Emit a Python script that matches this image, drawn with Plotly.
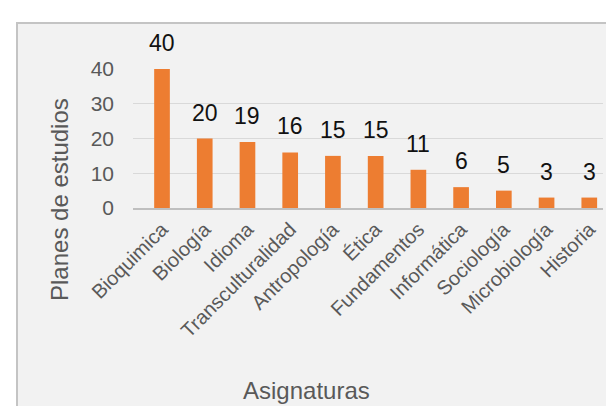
import plotly.graph_objects as go

categories = ["Bioquimica", "Biología", "Idioma", "Transculturalidad", "Antropología",
              "Ética", "Fundamentos", "Informática", "Sociología", "Microbiología", "Historia"]
values = [40, 20, 19, 16, 15, 15, 11, 6, 5, 3, 3]
y_ticks = [0, 10, 20, 30, 40]
x_title = "Asignaturas"
y_title = "Planes de estudios"

FONT = "Liberation Sans, Arial, sans-serif"
W, H = 614, 406
L, R, T, B = 125, 19, 61, 206
pw, ph = W - L - R, H - T - B

def px_x(p):
    return (p - L) / pw

def px_y(p):
    return (H - B - p) / ph

fig = go.Figure()
fig.add_trace(go.Bar(
    x=list(range(len(categories))), y=values,
    marker=dict(color="#ED7D31", line=dict(width=0)),
    width=0.367, hoverinfo="skip",
))

for i, v in enumerate(values):
    fig.add_annotation(x=i, y=v, text=str(v), showarrow=False, yanchor="bottom",
                       xanchor="center", yshift=11,
                       font=dict(family=FONT, size=23, color="#111111"))

fig.add_annotation(xref="paper", yref="paper", x=px_x(298), y=px_y(382), text=x_title,
                   xanchor="center", yanchor="middle", showarrow=False,
                   font=dict(family=FONT, size=24, color="#595959"))
fig.add_annotation(xref="paper", yref="paper", x=px_x(51), y=px_y(192), text=y_title,
                   xanchor="center", yanchor="middle", textangle=-90, showarrow=False,
                   font=dict(family=FONT, size=24, color="#595959"))

# chart panel
fig.add_shape(type="rect", xref="paper", yref="paper", layer="below",
              x0=px_x(9), x1=px_x(630), y0=px_y(15), y1=px_y(420),
              fillcolor="#F2F2F2", line=dict(color="#C4C4C4", width=2))

fig.update_layout(
    width=W, height=H,
    margin=dict(l=L, r=R, t=T, b=B, pad=0),
    paper_bgcolor="white", plot_bgcolor="rgba(0,0,0,0)",
    showlegend=False,
    font=dict(family=FONT, color="#595959"),
)
fig.update_xaxes(
    range=[-0.679, 10.321], tickmode="array", tickvals=list(range(len(categories))),
    ticktext=categories, tickangle=-45, tickfont=dict(size=20, color="#595959"),
    showline=True, linecolor="#BFBFBF", linewidth=1.5, showgrid=False, ticks="",
    zeroline=False, fixedrange=True,
)
fig.update_yaxes(
    range=[0, 40], tickvals=y_ticks, tickfont=dict(size=21, color="#595959"),
    showgrid=True, gridcolor="#D9D9D9", gridwidth=1.3, zeroline=False,
    showline=False, ticks="", ticklabelstandoff=18, fixedrange=True,
)

fig.write_html("out.html")
